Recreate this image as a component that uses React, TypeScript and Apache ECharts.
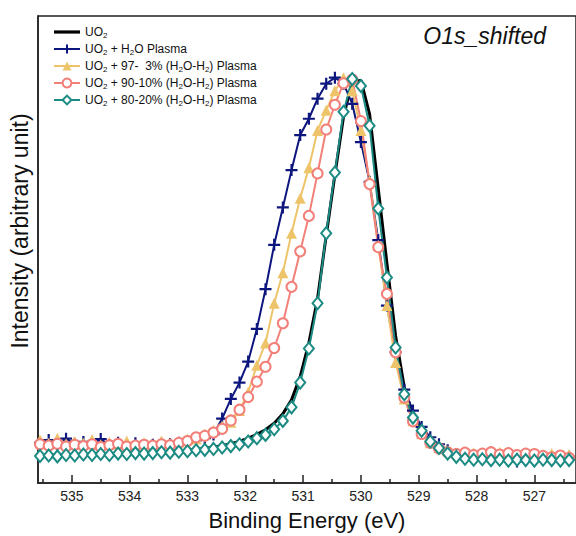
import React, { useEffect, useRef } from 'react';
import * as echarts from 'echarts';

// Binding energies (eV) of the sampled points
const energies = [
  535.55, 535.40, 535.25, 535.10, 534.95, 534.80, 534.65, 534.50, 534.35, 534.20,
  534.05, 533.90, 533.75, 533.60, 533.45, 533.30, 533.15, 533.00, 532.85, 532.70,
  532.55, 532.40, 532.25, 532.10, 531.95, 531.80, 531.65, 531.50, 531.35, 531.20,
  531.05, 530.90, 530.75, 530.60, 530.45, 530.30, 530.15, 530.00, 529.85, 529.70,
  529.55, 529.40, 529.25, 529.10, 528.95, 528.80, 528.65, 528.50, 528.35, 528.20,
  528.05, 527.90, 527.75, 527.60, 527.45, 527.30, 527.15, 527.00, 526.85, 526.70,
  526.55, 526.40,
];

// Intensity (arbitrary unit) per series
const uo2 = [
  6.0, 5.8, 6.1, 5.9, 6.2, 6.0, 6.1, 6.3, 6.1, 6.4, 6.2, 6.5, 6.4, 6.6, 6.5, 6.7, 6.9, 7.0,
  7.2, 7.4, 7.7, 8.0, 8.4, 8.9, 9.6, 10.4, 11.4, 12.8, 14.8, 17.8, 22.8, 30.0, 39.5, 53.0, 66.0, 78.5,
  86.0, 86.2, 79.0, 63.0, 47.0, 31.5, 20.5, 14.5, 11.0, 8.6, 7.2, 6.2, 5.6, 5.3, 5.1, 5.2, 5.0, 5.1,
  4.9, 5.1, 5.0, 4.9, 5.1, 5.0, 4.9, 5.0,
];
const h2oPlasma = [
  8.6, 9.2, 8.3, 9.5, 8.4, 8.8, 8.2, 9.4, 8.0, 8.6, 8.1, 8.5, 7.9, 8.2, 8.4, 8.3, 8.6, 8.8,
  9.2, 9.6, 10.4, 13.8, 18.0, 21.5, 26.0, 33.0, 41.5, 51.0, 59.0, 67.0, 74.5, 78.0, 82.3, 85.5, 86.8, 85.5,
  81.2, 73.0, 64.5, 52.0, 38.0, 28.0, 20.0, 15.5, 12.0, 9.8, 8.3, 7.0, 6.2, 5.8, 5.6, 5.2, 5.7, 5.4,
  5.5, 4.6, 5.6, 5.4, 5.7, 5.3, 5.5, 5.6,
];
const mix97 = [
  9.2, 8.5, 9.6, 8.4, 8.9, 8.5, 9.3, 8.2, 8.7, 8.3, 9.0, 8.1, 8.6, 8.0, 9.0, 8.4, 8.8, 9.4,
  9.5, 10.5, 11.3, 12.2, 13.0, 15.5, 19.5, 25.2, 30.0, 38.5, 45.0, 53.5, 61.0, 67.5, 75.5, 79.8, 84.0, 86.8,
  84.0, 75.5, 64.7, 50.9, 38.0, 25.8, 18.0, 13.4, 10.6, 8.6, 7.6, 6.9, 6.4, 6.1, 6.5, 5.9, 6.1, 6.6,
  5.8, 6.2, 5.9, 6.0, 5.6, 6.3, 5.9, 6.1,
];
const mix90 = [
  8.3, 8.0, 8.4, 7.8, 8.2, 7.9, 8.3, 7.7, 8.1, 8.4, 7.8, 8.0, 8.2, 8.0, 8.3, 8.1, 8.6, 9.0,
  9.8, 10.1, 10.8, 11.6, 13.4, 15.7, 18.4, 21.7, 24.9, 28.9, 34.2, 42.0, 49.6, 57.2, 66.3, 75.7, 81.0, 85.6,
  86.4, 77.5, 64.0, 50.5, 40.5, 28.0, 18.3, 13.2, 10.5, 8.6, 7.4, 6.6, 6.2, 6.5, 6.0, 6.3, 6.6, 6.1,
  6.4, 6.0, 6.3, 6.2, 5.8, 5.5, 5.9, 5.4,
];
const mix80 = [
  5.8, 5.9, 5.7, 6.0, 5.9, 6.1, 6.0, 6.2, 6.0, 6.3, 6.2, 6.4, 6.3, 6.4, 6.6, 6.5, 6.7, 6.8,
  7.0, 7.1, 7.3, 7.6, 7.9, 8.3, 8.9, 9.6, 10.3, 11.5, 13.3, 16.2, 21.5, 28.8, 38.5, 53.5, 66.5, 79.5,
  86.5, 85.0, 76.5, 58.8, 44.0, 29.0, 19.0, 14.0, 11.2, 8.9, 7.5, 6.3, 5.6, 5.2, 5.0, 5.1, 4.9, 5.0,
  4.8, 5.0, 4.9, 4.8, 5.0, 4.9, 4.8, 4.9,
];

const seriesNames = [
  'UO2',
  'UO2 + H2O Plasma',
  'UO2 + 97-  3% (H2O-H2) Plasma',
  'UO2 + 90-10% (H2O-H2) Plasma',
  'UO2 + 80-20% (H2O-H2) Plasma',
];

const xTickLabels = [535, 534, 533, 532, 531, 530, 529, 528, 527];
const xMinorTicks = [535.5, 534.5, 533.5, 532.5, 531.5, 530.5, 529.5, 528.5, 527.5, 526.5];

const FONT = "'Liberation Sans', Arial, Helvetica, sans-serif";
const AXIS = '#222';
const NAVY = '#0d167e';
const GOLD = '#eec46a';
const SALMON = '#f27f78';
const TEAL = '#1b8b83';

export default function App() {
  const ref = useRef<HTMLDivElement>(null);

  useEffect(() => {
    const chart = echarts.init(ref.current as HTMLDivElement, null, { renderer: 'svg' });
    const pts = (ys: number[]) => energies.map((e, i) => [e, ys[i]]);
    const xMin = 526.28;
    const xMax = 535.585;

    const base = {
      type: 'line',
      xAxisIndex: 0,
      yAxisIndex: 0,
      showAllSymbol: true,
      emphasis: { disabled: true },
      silent: true,
    };

    chart.setOption({
      animation: false,
      grid: {
        left: 38,
        top: 16,
        right: -3,
        bottom: 51,
        show: true,
        borderColor: AXIS,
        borderWidth: 1.5,
        backgroundColor: 'transparent',
      },
      title: {
        text: 'O1s_shifted',
        right: 30,
        top: 24,
        padding: 0,
        textStyle: {
          fontStyle: 'italic',
          fontWeight: 'normal',
          fontSize: 23,
          fontFamily: FONT,
          color: '#111',
        },
      },
      legend: {
        orient: 'vertical',
        left: 53,
        top: 25,
        padding: 0,
        itemWidth: 26,
        itemHeight: 11,
        itemGap: 3,
        align: 'left',
        selectedMode: false,
        data: [
          { name: seriesNames[0], icon: 'path://M0 0L26 0L26 3.2L0 3.2Z' },
          seriesNames[1],
          seriesNames[2],
          seriesNames[3],
          seriesNames[4],
        ],
        formatter: (name: string) => name.replace(/([A-Za-z])2/g, '$1{s|2}'),
        textStyle: {
          fontSize: 12,
          lineHeight: 14,
          fontFamily: FONT,
          color: '#111',
          rich: {
            s: { fontSize: 8, lineHeight: 8, padding: [6, 0, 0, 0], fontFamily: FONT, color: '#111' },
          },
        },
      },
      xAxis: [
        {
          type: 'value',
          min: xMin,
          max: xMax,
          inverse: true,
          position: 'bottom',
          axisLine: { show: true, onZero: false, lineStyle: { color: AXIS, width: 1.5 } },
          axisTick: {
            show: true,
            inside: true,
            length: 8,
            customValues: xTickLabels,
            lineStyle: { color: AXIS, width: 1.5 },
          },
          axisLabel: {
            customValues: xTickLabels,
            margin: 6,
            fontSize: 14,
            color: '#222',
            fontFamily: FONT,
          },
          splitLine: { show: false },
          name: 'Binding Energy (eV)',
          nameLocation: 'middle',
          nameGap: 26,
          nameTextStyle: { fontSize: 22, color: '#111', fontFamily: FONT },
        },
        {
          type: 'value',
          min: xMin,
          max: xMax,
          inverse: true,
          position: 'bottom',
          axisLine: { show: false },
          axisTick: {
            show: true,
            inside: true,
            length: 4,
            customValues: xMinorTicks,
            lineStyle: { color: AXIS, width: 1.5 },
          },
          axisLabel: { show: false },
          splitLine: { show: false },
        },
      ],
      yAxis: {
        type: 'value',
        min: 0,
        max: 100,
        axisLine: { show: true, onZero: false, lineStyle: { color: AXIS, width: 1.5 } },
        axisTick: { show: false },
        axisLabel: { show: false },
        splitLine: { show: false },
      },
      graphic: [
        {
          type: 'text',
          x: 20,
          y: 231,
          rotation: Math.PI / 2,
          silent: true,
          style: {
            text: 'Intensity (arbitrary unit)',
            font: `23px ${FONT}`,
            fill: '#111',
            align: 'center',
            verticalAlign: 'middle',
          },
        },
      ],
      series: [
        {
          ...base,
          name: seriesNames[0],
          data: pts(uo2),
          symbol: 'none',
          lineStyle: { color: '#000', width: 3 },
          itemStyle: { color: '#000' },
        },
        {
          ...base,
          name: seriesNames[1],
          data: pts(h2oPlasma),
          symbol: 'path://M0 5L10 5M5 0L5 10',
          symbolSize: 12,
          lineStyle: { color: NAVY, width: 2 },
          itemStyle: { color: NAVY, borderColor: NAVY, borderWidth: 2.2 },
        },
        {
          ...base,
          name: seriesNames[2],
          data: pts(mix97),
          symbol: 'triangle',
          symbolSize: 11,
          lineStyle: { color: GOLD, width: 2 },
          itemStyle: { color: GOLD, borderColor: GOLD, borderWidth: 0 },
        },
        {
          ...base,
          name: seriesNames[3],
          data: pts(mix90),
          symbol: 'emptyCircle',
          symbolSize: 10,
          lineStyle: { color: SALMON, width: 2 },
          itemStyle: { color: SALMON, borderColor: SALMON, borderWidth: 1.8 },
        },
        {
          ...base,
          name: seriesNames[4],
          data: pts(mix80),
          symbol: 'emptyDiamond',
          symbolSize: [10, 12],
          lineStyle: { color: TEAL, width: 2 },
          itemStyle: { color: TEAL, borderColor: TEAL, borderWidth: 2 },
        },
      ],
    });

    return () => chart.dispose();
  }, []);

  return (
    <div
      ref={ref}
      style={{ position: 'fixed', left: 0, top: 0, width: 576, height: 536, background: '#fff' }}
    />
  );
}
